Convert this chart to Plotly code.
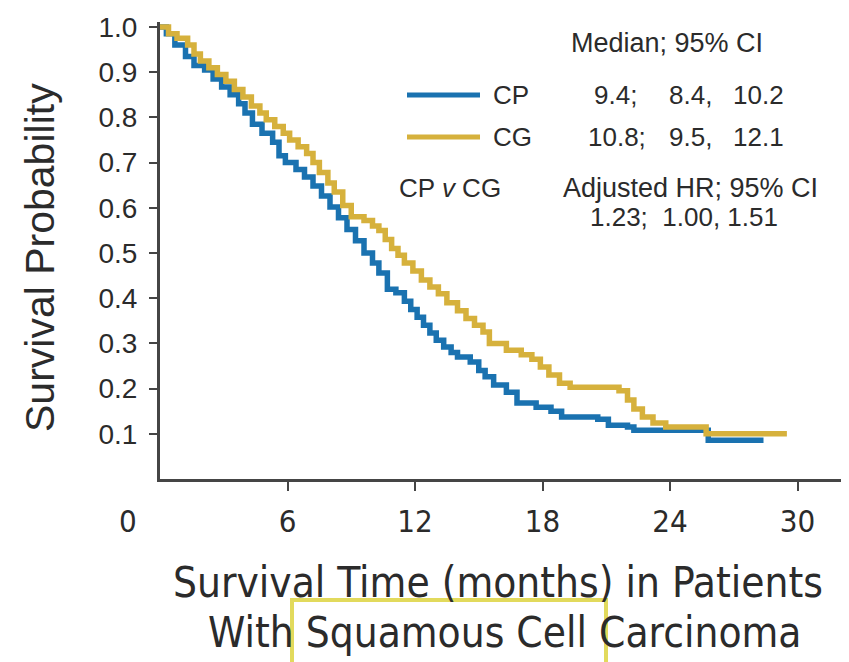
import plotly.graph_objects as go

# Kaplan-Meier step points (months, survival probability)
cp_time = [0, 0.3, 0.7, 1.2, 1.6, 2.1, 2.5, 2.9, 3.3, 3.7, 4.0, 4.35, 4.8, 5.3, 5.6,
           5.9, 6.4, 6.8, 7.2, 7.6, 8.0, 8.4, 8.8, 9.2, 9.6, 10.0, 10.3, 10.7, 11.1,
           11.5, 11.8, 12.1, 12.4, 12.7, 13.0, 13.35, 13.7, 14.0, 14.6, 15.0, 15.3,
           15.7, 16.3, 16.8, 17.7, 18.4, 18.9, 20.6, 21.1, 22.0, 22.3, 25.8, 28.4]
cp_surv = [1.0, 0.985, 0.96, 0.935, 0.915, 0.905, 0.885, 0.867, 0.85, 0.83, 0.81,
           0.785, 0.765, 0.745, 0.715, 0.7, 0.685, 0.668, 0.648, 0.626, 0.602, 0.578,
           0.552, 0.527, 0.5, 0.478, 0.456, 0.42, 0.412, 0.393, 0.375, 0.358, 0.34,
           0.323, 0.307, 0.292, 0.28, 0.27, 0.259, 0.24, 0.226, 0.208, 0.192, 0.168,
           0.159, 0.15, 0.137, 0.132, 0.119, 0.115, 0.108, 0.086, 0.086]

cg_time = [0, 0.4, 0.8, 1.3, 1.6, 1.9, 2.3, 2.7, 3.1, 3.5, 3.9, 4.3, 4.7, 5.0, 5.4,
           5.8, 6.1, 6.5, 6.9, 7.2, 7.5, 7.9, 8.2, 8.6, 9.0, 9.6, 10.0, 10.3, 10.6,
           10.9, 11.2, 11.5, 11.9, 12.3, 12.7, 13.1, 13.5, 14.0, 14.4, 14.8, 15.2,
           15.5, 16.3, 17.0, 17.5, 17.9, 18.3, 18.8, 19.3, 21.6, 22.0, 22.3, 22.7,
           23.2, 23.8, 25.7, 29.5]
cg_surv = [1.0, 0.985, 0.975, 0.96, 0.94, 0.925, 0.91, 0.895, 0.88, 0.862, 0.845,
           0.825, 0.81, 0.795, 0.78, 0.765, 0.75, 0.735, 0.72, 0.7, 0.678, 0.655,
           0.635, 0.605, 0.58, 0.572, 0.56, 0.55, 0.53, 0.51, 0.495, 0.478, 0.46,
           0.44, 0.425, 0.41, 0.39, 0.372, 0.355, 0.34, 0.325, 0.3, 0.285, 0.275,
           0.265, 0.248, 0.23, 0.212, 0.203, 0.195, 0.175, 0.155, 0.137, 0.124,
           0.115, 0.1, 0.1]

x_ticks = [6, 12, 18, 24, 30]
y_ticks = [0.1, 0.2, 0.3, 0.4, 0.5, 0.6, 0.7, 0.8, 0.9, 1.0]

cp_stats = ["9.4;", "8.4,", "10.2"]
cg_stats = ["10.8;", "9.5,", "12.1"]
hr_stats = "1.23;  1.00, 1.51"

BLUE = "#1A72B0"
GOLD = "#D6B13C"
INK = "#2B2B2B"
AXIS = "#454545"
SANS = "Liberation Sans, Arial, sans-serif"
NARROW = "DejaVu Sans Condensed, Liberation Sans Narrow, sans-serif"

W, H = 849, 662
L, R, T, B = 160, 841, 22, 479


def px(x):
    return (x - L) / (R - L)


def py(y):
    return (B - y) / (B - T)


fig = go.Figure()
fig.add_trace(go.Scatter(x=cp_time, y=cp_surv, mode="lines", name="CP",
                         line=dict(color=BLUE, width=5.5, shape="hv")))
fig.add_trace(go.Scatter(x=cg_time, y=cg_surv, mode="lines", name="CG",
                         line=dict(color=GOLD, width=5.5, shape="hv")))

annotations = []


def text(s, x, y, size=26, anchor="left", family=SANS, **kw):
    annotations.append(dict(text=s, x=px(x), y=py(y), xref="paper", yref="paper",
                            xanchor=anchor, yanchor="middle", showarrow=False,
                            font=dict(family=family, size=size, color=INK), **kw))


# legend block
text("Median; 95% CI", 667, 43, anchor="center", size=27)
text("CP", 491, 95)
text("CG", 491, 137)
text(cp_stats[0], 592, 95)
text(cp_stats[1], 667, 95)
text(cp_stats[2], 786, 95, anchor="right")
text(cg_stats[0], 586, 137)
text(cg_stats[1], 667, 137)
text(cg_stats[2], 786, 137, anchor="right")
text("CP <i>v</i> CG", 397, 188)
text("Adjusted HR; 95% CI", 690, 188, anchor="center", size=27)
text(hr_stats, 684, 217, anchor="center")

# axis titles and the origin label
text("Survival Probability", 40, 258, size=41, anchor="center", textangle=-90)
text("0", 128, 521, size=31, anchor="center", family=NARROW)
text("Survival Time (months) in Patients", 498, 582, size=42, anchor="center",
     family=NARROW)
text("With Squamous Cell Carcinoma", 504, 632, size=42, anchor="center",
     family=NARROW)

shapes = [
    dict(type="line", xref="paper", yref="paper", x0=px(407), x1=px(480),
         y0=py(95), y1=py(95), line=dict(color=BLUE, width=5)),
    dict(type="line", xref="paper", yref="paper", x0=px(407), x1=px(480),
         y0=py(137), y1=py(137), line=dict(color=GOLD, width=5)),
    dict(type="rect", xref="paper", yref="paper", x0=px(292), x1=px(606),
         y0=py(600), y1=py(680), line=dict(color="#E2DA5C", width=4)),
]

fig.update_layout(
    width=W, height=H,
    margin=dict(l=L, r=W - R, t=T, b=H - B),
    paper_bgcolor="white", plot_bgcolor="white",
    showlegend=False,
    annotations=annotations,
    shapes=shapes,
    xaxis=dict(range=[0, (R - L) / 21.25], tickvals=x_ticks,
               ticktext=[str(v) for v in x_ticks],
               showline=True, linecolor=AXIS, linewidth=3,
               ticks="outside", ticklen=9, tickwidth=2, tickcolor=AXIS,
               ticklabelstandoff=4, showgrid=False, zeroline=False,
               tickfont=dict(family=NARROW, size=31, color=INK)),
    yaxis=dict(range=[0, (B - T) / 452], tickvals=y_ticks,
               ticktext=[f"{v:.1f}" for v in y_ticks],
               showline=True, linecolor=AXIS, linewidth=3,
               ticks="outside", ticklen=8, tickwidth=2, tickcolor=AXIS,
               ticklabelstandoff=6, showgrid=False, zeroline=False,
               tickfont=dict(family=SANS, size=28, color=INK)),
)

fig.write_html("out.html")
